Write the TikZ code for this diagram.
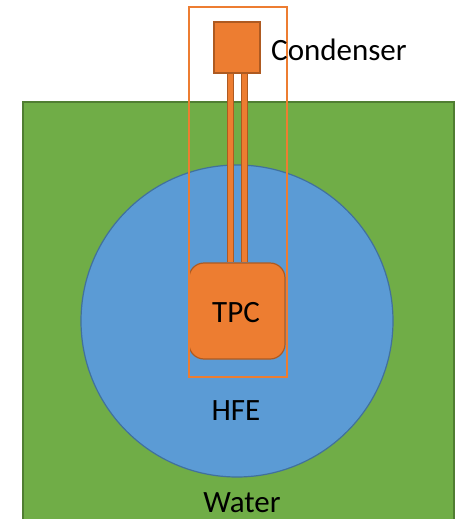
\documentclass[tikz,border=0pt]{standalone}
\usepackage{fontspec}
\setmainfont{Carlito}
\usetikzlibrary{positioning}
\definecolor{cwater}{HTML}{70AD47}
\definecolor{cwaterline}{HTML}{507E32}
\definecolor{chfe}{HTML}{5B9BD5}
\definecolor{chfeline}{HTML}{41719C}
\definecolor{cpart}{HTML}{ED7D31}
\definecolor{cpartline}{HTML}{AE5A21}
\begin{document}
\begin{tikzpicture}[
  x=1pt, y=-1pt,
  font=\fontsize{31}{36}\selectfont,
  part/.style={draw=cpartline, fill=cpart, line width=1.2pt, inner sep=0pt},
  pipe/.style={draw=cpartline, double=cpart, double distance=5pt, line width=1.2pt},
  txt/.style={anchor=base, inner sep=0pt},
  ]
\useasboundingbox (0,0) rectangle (456,519);
\clip (0,0) rectangle (456,519);
% water tank and HFE vessel
\node[draw=cwaterline, fill=cwater, line width=1.5pt, inner sep=0pt,
      minimum width=431pt, minimum height=440pt, anchor=north west] (water) at (22,101) {};
\node[circle, draw=chfeline, fill=chfe, line width=1.2pt, inner sep=0pt,
      minimum size=312pt] (hfe) at (237,321) {};

% detector parts
\node[part, minimum width=46pt, minimum height=51pt] (cond) at (237,47.5) {};
\node[part, rounded corners=15pt, minimum width=96pt, minimum height=96pt] (tpc) at (237,311) {};
\draw[pipe] ([xshift=-6.5pt]cond.south) -- ([xshift=-6.5pt]cond.south |- tpc.north);
\draw[pipe] ([xshift=7.5pt]cond.south) -- ([xshift=7.5pt]cond.south |- tpc.north);
\node[draw=cpart, line width=2pt, inner sep=0pt, minimum width=98.5pt,
      minimum height=369.5pt, anchor=north west] (frame) at (187.5,6.5) {};

% labels
\node[txt] (condtxt) at (339,60) {Condenser};
\node[txt] (tpctxt) at (236,322) {TPC};
\node[txt] (hfetxt) at (236,420) {HFE};
\node[txt] (watertxt) at (242,512) {Water};
\end{tikzpicture}
\end{document}
